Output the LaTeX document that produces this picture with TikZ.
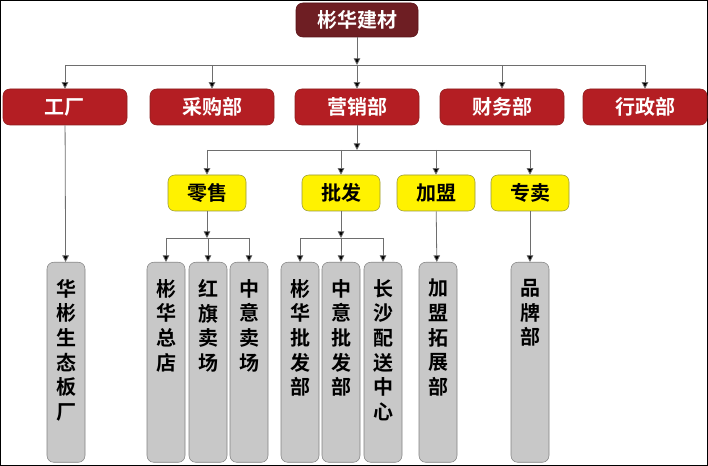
\documentclass[tikz,border=0pt]{standalone}
\usepackage{fontspec}
\setmainfont{Noto Sans CJK SC}[BoldFont={Noto Sans CJK SC Bold}]
\usetikzlibrary{arrows.meta}
\begin{document}
\begin{tikzpicture}[x=0.75pt,y=-0.75pt,
  box/.style={rounded corners=5pt,draw,inner sep=0pt,font=\bfseries\fontsize{15}{15}\selectfont},
  top/.style={box,fill={rgb,255:red,110;green,30;blue,35},draw={rgb,255:red,90;green,20;blue,25},text=white,minimum width=122*0.75pt,minimum height=34*0.75pt},
  dept/.style={box,fill={rgb,255:red,180;green,30;blue,35},draw={rgb,255:red,140;green,30;blue,30},text=white,minimum width=124*0.75pt,minimum height=36*0.75pt},
  sub/.style={box,fill=yellow,draw={rgb,255:red,150;green,150;blue,60},text=black,minimum width=78*0.75pt,minimum height=36*0.75pt},
  leaf/.style={box,fill={rgb,255:red,200;green,200;blue,200},draw={rgb,255:red,130;green,130;blue,130},anchor=north,minimum width=38*0.75pt,minimum height=200*0.75pt},
  vtext/.style={anchor=north,inner sep=0pt,align=center,font=\bfseries\fontsize{15}{18.5}\selectfont},
  conn/.style={draw={rgb,255:red,110;green,110;blue,110},line width=0.6pt},
  arr/.style={conn,-{Triangle[length=5pt,width=5pt,fill=black]}}]
\useasboundingbox (0,0) rectangle (708,466);
\draw[black,line width=0.8pt] (0.5,0.5) rectangle (707.5,465.5);
\node[top] (root) at (357,20) {彬华建材};
\node[dept] (d1) at (65,107) {工厂};
\node[dept] (d2) at (212,107) {采购部};
\node[dept] (d3) at (357,107) {营销部};
\node[dept] (d4) at (502,107) {财务部};
\node[dept] (d5) at (645,107) {行政部};
\node[sub] (s1) at (207,193) {零售};
\node[sub] (s2) at (341,193) {批发};
\node[sub] (s3) at (436,193) {加盟};
\node[sub] (s4) at (530,193) {专卖};
\foreach \n/\x/\t in {l1/66/{华\\彬\\生\\态\\板\\厂},l2/166/{彬\\华\\总\\店},l3/208/{红\\旗\\卖\\场},l4/249/{中\\意\\卖\\场},l5/300/{彬\\华\\批\\发\\部},l6/341/{中\\意\\批\\发\\部},l7/383/{长\\沙\\配\\送\\中\\心},l8/438/{加\\盟\\拓\\展\\部},l9/530/{品\\牌\\部}}{
  \node[leaf] (\n) at (\x,262) {};
  \node[vtext] (\n t) at (\x,279) {\t};
}
\coordinate (b0) at (357,65);
\coordinate (b1) at (357,150);
\coordinate (b2) at (207,238);
\coordinate (b3) at (341,238);
\draw[conn] (d1.north|-b0) -- (d5.north|-b0);
\draw[conn] (s1.north|-b1) -- (s4.north|-b1);
\draw[conn] (l2.north|-b2) -- (l4.north|-b2);
\draw[conn] (l5.north|-b3) -- (l7.north|-b3);
\draw[arr] (root) -- (b0);
\foreach \d in {d1,d2,d3,d4,d5} \draw[arr] (\d.north|-b0) -- (\d.north);
\draw[arr] (d3) -- (b1);
\foreach \s in {s1,s2,s3,s4} \draw[arr] (\s.north|-b1) -- (\s.north);
\draw[arr] (s1) -- (b2);
\draw[arr] (s2) -- (b3);
\foreach \l in {l2,l3,l4} \draw[arr] (\l.north|-b2) -- (\l.north);
\foreach \l in {l5,l6,l7} \draw[arr] (\l.north|-b3) -- (\l.north);
\draw[arr] (d1) -- (l1);
\draw[arr] (s3) -- (l8);
\draw[arr] (s4) -- (l9);
\end{tikzpicture}
\end{document}
